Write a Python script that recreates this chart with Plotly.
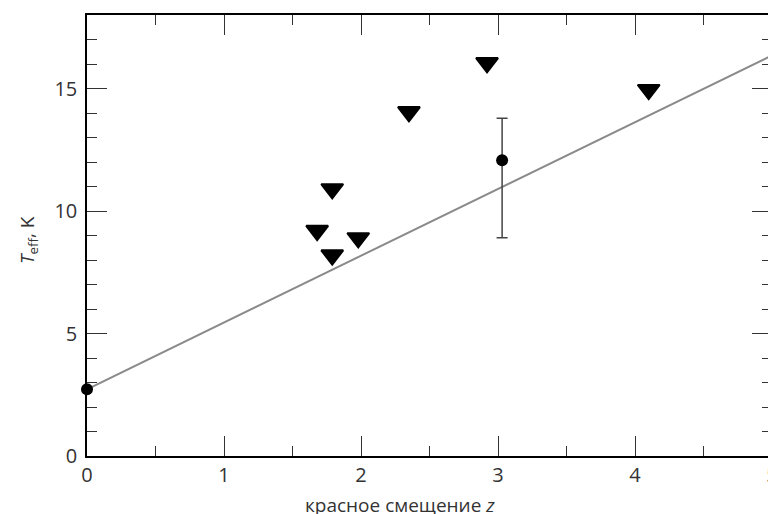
import plotly.graph_objects as go

# Data
z_limits = [1.68, 1.79, 1.79, 1.98, 2.35, 2.92, 4.10]
t_limits = [9.2, 8.2, 10.9, 8.9, 14.05, 16.05, 14.95]

z_meas = [0.0, 3.03]
t_meas = [2.725, 12.07]
t_err_plus = [0.0, 1.72]
t_err_minus = [0.0, 3.16]

z_line = [0.0, 5.0]
t0 = 2.725
t_line = [t0 * (1 + z) for z in z_line]

x_ticks = [0, 1, 2, 3, 4, 5]
y_ticks = [0, 5, 10, 15]

font_family = "Open Sans, Segoe UI, sans-serif"
text_color = "#333333"

fig = go.Figure()

fig.add_trace(go.Scatter(
    x=z_line, y=t_line, mode="lines",
    line=dict(color="#8a8a8a", width=2),
    showlegend=False, hoverinfo="skip",
))

fig.add_trace(go.Scatter(
    x=z_limits, y=t_limits, mode="markers",
    marker=dict(symbol="triangle-down", size=19, color="black",
                line=dict(color="black", width=2)),
    showlegend=False,
))

fig.add_trace(go.Scatter(
    x=z_meas, y=t_meas, mode="markers",
    marker=dict(symbol="circle", size=12, color="black"),
    error_y=dict(type="data", symmetric=False, array=t_err_plus,
                 arrayminus=t_err_minus, color="#444444",
                 thickness=1.5, width=5.5),
    showlegend=False, cliponaxis=False,
))

axis_common = dict(
    showgrid=False, zeroline=False,
    showline=True, linecolor="black", linewidth=1.5,
    mirror="allticks", ticks="inside", ticklen=20, tickwidth=1,
    tickcolor="#333333",
    tickfont=dict(family=font_family, size=20, color=text_color),
)

fig.update_xaxes(
    range=[0, 5], tickvals=x_ticks, ticktext=[str(v) for v in x_ticks],
    minor=dict(dtick=0.5, ticklen=10, tickcolor="#333333", ticks="inside"),
    ticklabelstandoff=0,
    **axis_common,
)
fig.update_yaxes(
    range=[0, 18], tickvals=y_ticks, ticktext=[str(v) for v in y_ticks],
    minor=dict(dtick=1, ticklen=10, tickcolor="#333333", ticks="inside"),
    ticklabelstandoff=4,
    **axis_common,
)

fig.add_annotation(
    text="красное смещение <i>z</i>", xref="paper", yref="paper",
    x=0.457, y=0, xanchor="center", yanchor="middle", yshift=-49,
    showarrow=False,
    font=dict(family=font_family, size=19, color=text_color),
)
fig.add_annotation(
    text="<i>T</i><sub>eff</sub>, K", xref="paper", yref="paper",
    x=0, y=0.49, xanchor="center", yanchor="middle", xshift=-59,
    textangle=-90, showarrow=False,
    font=dict(family=font_family, size=19, color=text_color),
)

fig.update_layout(
    width=776, height=514,
    margin=dict(l=79, r=12, t=5, b=66),
    plot_bgcolor="white", paper_bgcolor="white",
    font=dict(family=font_family, color=text_color),
)

fig.write_html("out.html")
